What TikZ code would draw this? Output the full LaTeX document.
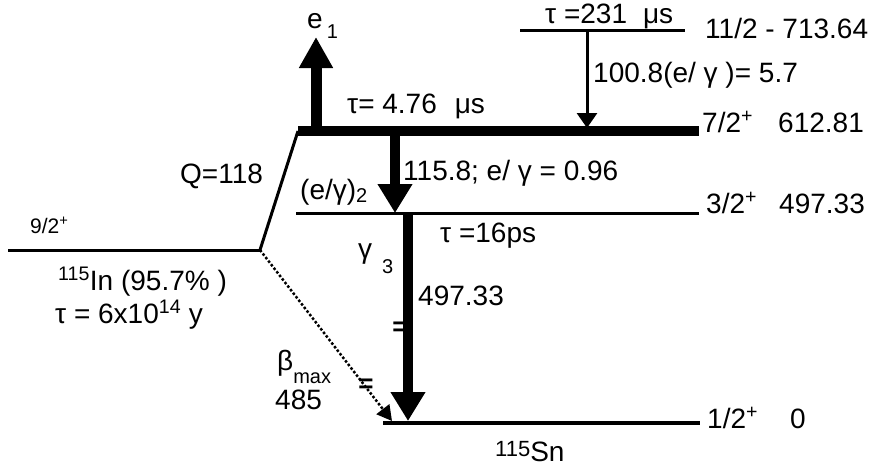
\documentclass[tikz,border=0pt]{standalone}
\usepackage{fontspec}
\setmainfont{Liberation Sans}
\usetikzlibrary{arrows.meta}
\newcommand{\lowsub}[2]{\raisebox{#1}{\fontsize{20}{20}\selectfont #2}}

\begin{document}
\begin{tikzpicture}[x=1pt,y=-1pt,
    lvl/.style={line width=3pt},
    lvlthick/.style={line width=10pt},
    gline/.style={line width=10pt,-{Triangle[width=33pt,length=29pt]}},
    gthin/.style={line width=3pt,-{Triangle[width=20pt,length=15pt]}},
    betaline/.style={line width=2.5pt,dash pattern=on 2.5pt off 2pt,
                     -{Triangle[width=16pt,length=15pt]}},
    lbl/.style={inner sep=0pt,anchor=base west,font=\fontsize{28}{30}\selectfont},
    small/.style={lbl,font=\fontsize{21}{24}\selectfont},
    tick/.style={inner sep=0pt,font=\fontsize{26}{26}\selectfont\bfseries}]
  \useasboundingbox (0,0) rectangle (874,466);

  % level ends
  \coordinate (l11a) at (520,30);  \coordinate (l11b) at (685,30);
  \coordinate (l7a)  at (298,131); \coordinate (l7b)  at (699,131);
  \coordinate (l3a)  at (296,213); \coordinate (l3b)  at (699,213);
  \coordinate (l1a)  at (383,423); \coordinate (l1b)  at (700,423);
  \coordinate (l9a)  at (8,250);   \coordinate (l9b)  at (260,250);

  % levels
  \draw[lvl] (l11a) -- (l11b);
  \draw[lvlthick] (l7a) -- (l7b);
  \draw[lvl] (l3a) -- (l3b);
  \draw[line width=4pt] (l1a) -- (l1b);
  \draw[lvl] (l9a) -- (l9b);

  % transitions
  \coordinate (e1a) at (316,126);  \coordinate (e1b) at (316,37);
  \coordinate (g100a) at (587,30); \coordinate (g100b) at (587,128);
  \coordinate (g115a) at (395,131); \coordinate (g115b) at (395,213);
  \coordinate (g497a) at (408,213); \coordinate (g497b) at (408,421);
  \coordinate (betab) at (392,421);
  \draw[line width=11pt,-{Triangle[width=32pt,length=31pt]}] (e1a) -- (e1b);
  \draw[gthin] (g100a) -- (g100b);
  \draw[gline] (g115a) -- (g115b);
  \draw[gline] (g497a) -- (g497b);
  \draw[line width=3pt] (l9b) -- (l7a);
  \draw[betaline] (l9b) -- (betab);

  % labels
  \node[lbl] (e1) at (307,28) {e\hspace{4pt}\lowsub{-10pt}{1}};
  \node[lbl] (t476) at (347,113) {τ= 4.76\hspace{18pt}μs};
  \node[lbl] (t231) at (545,23) {τ =231\hspace{16pt}μs};
  \node[lbl] (j11) at (705,38) {11/2 - 713.64};
  \node[lbl] (i100) at (593,82) {100.8(e/ γ )= 5.7};
  \node[lbl] (j7) at (702,132) {7/2\textsuperscript{+}};
  \node[lbl] (en7) at (778,132) {612.81};
  \node[lbl] (i115) at (403,180) {115.8; e/ γ = 0.96};
  \node[lbl] (q) at (180,183) {Q=118};
  \node[lbl] (eg2) at (300,199) {(e/γ)\lowsub{-3pt}{2}};
  \node[small] (j9) at (30,233) {9/2\textsuperscript{+}};
  \node[lbl] (j3) at (706,213) {3/2\textsuperscript{+}};
  \node[lbl] (en3) at (779,213) {497.33};
  \node[lbl] (t16) at (440,242) {τ =16ps};
  \node[lbl] (gam3) at (358,258) {γ\hspace{10pt}\lowsub{-15pt}{3}};
  \node[lbl] (i497) at (418,305) {497.33};
  \node[lbl] (in) at (58,290) {\textsuperscript{115}In (95.7\% )};
  \node[lbl] (tin) at (55,323) {τ = 6x10\textsuperscript{14} y};
  \node[lbl] (beta) at (277,370) {β\lowsub{-13pt}{max}};
  \node[lbl] (b485) at (275,409) {485};
  \node[tick] (tk1) at (366,386) {=};
  \node[tick] (tk2) at (400,329) {=};
  \node[lbl] (j1) at (707,428) {1/2\textsuperscript{+}};
  \node[lbl] (en1) at (790,428) {0};
  \node[lbl] (sn) at (495,461) {\raisebox{5pt}{\fontsize{22}{22}\selectfont 115}Sn};
\end{tikzpicture}
\end{document}
